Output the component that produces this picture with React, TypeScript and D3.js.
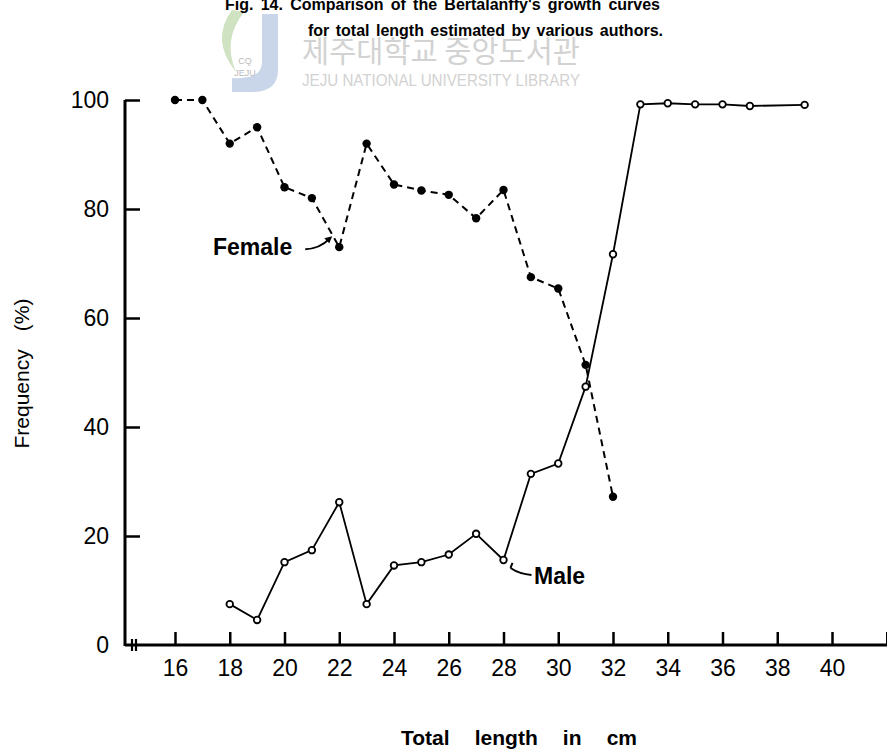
import React, { useRef, useEffect } from "react";
import * as d3 from "d3";

// total length (cm) and frequency (%)
const femaleLength = [16, 17, 18, 19, 20, 21, 22, 23, 24, 25, 26, 27, 28, 29, 30, 31, 32];
const femaleFreq = [100, 100, 92, 95, 84, 82, 73, 92, 84.5, 83.4, 82.6, 78.3, 83.5, 67.5, 65.4, 51.4, 27.2];

const maleLength = [18, 19, 20, 21, 22, 23, 24, 25, 26, 27, 28, 29, 30, 31, 32, 33, 34, 35, 36, 37, 39];
const maleFreq = [7.5, 4.6, 15.2, 17.4, 26.2, 7.5, 14.6, 15.2, 16.6, 20.4, 15.6, 31.4, 33.3, 47.4, 71.7, 99.2, 99.4, 99.2, 99.2, 98.9, 99.1];

const xTicks = [16, 18, 20, 22, 24, 26, 28, 30, 32, 34, 36, 38, 40, 42];
const yTicks = [0, 20, 40, 60, 80, 100];

const titleLines = [
  "Fig. 14. Comparison of the Bertalanffy's growth curves",
  "for total length estimated by various authors.",
];

const dimensions = {
  width: 887,
  height: 754,
  margin: { top: 100, right: 0, bottom: 109, left: 125 },
};
const bottomY = dimensions.height - dimensions.margin.bottom;

const xScale = d3.scaleLinear().domain([16, 40]).range([175, 832]);
const yScale = d3.scaleLinear().domain([0, 100]).range([bottomY, dimensions.margin.top]);

const font = "'Liberation Sans', Arial, sans-serif";

// widen the gaps between words so the text spans `target` px
function spreadWords(sel: d3.Selection<SVGTextElement, unknown, null, undefined>, target: number) {
  const node = sel.node();
  if (!node) return;
  const natural = node.getComputedTextLength();
  const gaps = (node.textContent || "").split(" ").length - 1;
  if (gaps > 0 && natural < target) sel.attr("word-spacing", (target - natural) / gaps);
}

export default function App() {
  const svgRef = useRef<SVGSVGElement>(null);

  useEffect(() => {
    if (!svgRef.current) return;
    const svg = d3.select(svgRef.current);
    svg.selectAll("*").remove();

    // library watermark
    const wm = svg.append("g").attr("class", "watermark");
    wm.append("path")
      .attr("d", "M262,14 L278,14 L278,70 Q278,92 252,92 L232,92 L232,78 Q262,80 262,62 Z")
      .attr("fill", "#c9d6ea");
    wm.append("path")
      .attr("d", "M232,10 Q210,40 236,72 Q222,40 244,12 Z")
      .attr("fill", "#cfe3c2");
    wm.append("text").attr("x", 245).attr("y", 64).attr("text-anchor", "middle")
      .attr("font-family", font).attr("font-size", 9).attr("fill", "#bbb").text("CQ");
    wm.append("text").attr("x", 245).attr("y", 76).attr("text-anchor", "middle")
      .attr("font-family", font).attr("font-size", 9).attr("fill", "#bbb").text("JEJU");
    wm.append("text").attr("x", 302).attr("y", 62)
      .attr("font-family", "'Noto Sans CJK KR', sans-serif").attr("font-size", 30)
      .attr("textLength", 278).attr("lengthAdjust", "spacingAndGlyphs")
      .attr("fill", "#d2d2d2").text("제주대학교 중앙도서관");
    wm.append("text").attr("x", 302).attr("y", 86)
      .attr("font-family", font).attr("font-size", 16)
      .attr("textLength", 278).attr("lengthAdjust", "spacingAndGlyphs")
      .attr("fill", "#d2d2d2").text("JEJU NATIONAL UNIVERSITY LIBRARY");

    // caption (first line cut off by the page top)
    const cap1 = svg.append("text").attr("x", 225).attr("y", 10)
      .attr("font-family", font).attr("font-size", 16).attr("font-weight", "bold")
      .text(titleLines[0]);
    spreadWords(cap1, 435);
    const cap2 = svg.append("text").attr("x", 308).attr("y", 36)
      .attr("font-family", font).attr("font-size", 16).attr("font-weight", "bold")
      .text(titleLines[1]);
    spreadWords(cap2, 355);

    // axes
    const axisColor = "#000";
    const xAxis = d3.axisBottom(xScale)
      .tickValues(xTicks)
      .tickSize(-13)
      .tickPadding(15)
      .tickFormat((d) => (+d <= 40 ? String(d) : ""));
    const gx = svg.append("g").attr("transform", `translate(0,${bottomY})`).call(xAxis);
    gx.select(".domain").remove();
    gx.selectAll(".tick line").attr("stroke", axisColor).attr("stroke-width", 2.5);
    gx.selectAll(".tick text").attr("font-family", font).attr("font-size", 23).attr("fill", "#000");

    const yAxis = d3.axisLeft(yScale)
      .tickValues(yTicks)
      .tickSize(-15)
      .tickPadding(16);
    const gy = svg.append("g").attr("transform", `translate(${dimensions.margin.left},0)`).call(yAxis);
    gy.select(".domain").remove();
    gy.selectAll(".tick line").attr("stroke", axisColor).attr("stroke-width", 2.5)
      .filter((d) => d === 0).remove();
    gy.selectAll(".tick text").attr("font-family", font).attr("font-size", 23).attr("fill", "#000");

    // axis lines with break
    svg.append("line")
      .attr("x1", dimensions.margin.left).attr("x2", dimensions.margin.left)
      .attr("y1", yScale(100)).attr("y2", bottomY + 1)
      .attr("stroke", axisColor).attr("stroke-width", 3);
    svg.append("line")
      .attr("x1", dimensions.margin.left).attr("x2", dimensions.width)
      .attr("y1", bottomY).attr("y2", bottomY)
      .attr("stroke", axisColor).attr("stroke-width", 3);
    [132, 136].forEach((bx) => {
      svg.append("line").attr("x1", bx).attr("x2", bx)
        .attr("y1", bottomY - 6).attr("y2", bottomY + 6)
        .attr("stroke", axisColor).attr("stroke-width", 2.2);
    });

    // axis titles
    const yTitle = svg.append("text")
      .attr("transform", `translate(29,${(yScale(100) + bottomY) / 2 + 1}) rotate(-90)`)
      .attr("text-anchor", "middle")
      .attr("font-family", font).attr("font-size", 21)
      .text("Frequency (%)");
    spreadWords(yTitle, 150);
    const xTitle = svg.append("text")
      .attr("x", 519).attr("y", 745).attr("text-anchor", "middle")
      .attr("font-family", font).attr("font-size", 21).attr("font-weight", "bold")
      .text("Total length in cm");
    spreadWords(xTitle, 236);

    const female = femaleLength.map((x, i) => [x, femaleFreq[i]] as [number, number]);
    const male = maleLength.map((x, i) => [x, maleFreq[i]] as [number, number]);

    const lineGenerator = d3.line<[number, number]>()
      .x((d) => xScale(d[0]))
      .y((d) => yScale(d[1]));

    svg.append("path").attr("d", lineGenerator(female))
      .attr("fill", "none").attr("stroke", "#000").attr("stroke-width", 2)
      .attr("stroke-dasharray", "7,5");
    svg.append("path").attr("d", lineGenerator(male))
      .attr("fill", "none").attr("stroke", "#000").attr("stroke-width", 1.8);

    svg.append("g").selectAll("circle").data(female).join("circle")
      .attr("cx", (d) => xScale(d[0])).attr("cy", (d) => yScale(d[1]))
      .attr("r", 4.2).attr("fill", "#000");
    svg.append("g").selectAll("circle").data(male).join("circle")
      .attr("cx", (d) => xScale(d[0])).attr("cy", (d) => yScale(d[1]))
      .attr("r", 3.3).attr("fill", "#fff").attr("stroke", "#000").attr("stroke-width", 1.8);

    // series labels
    const fx = xScale(22), fy = yScale(73);
    svg.append("text").attr("x", 213).attr("y", 255)
      .attr("font-family", font).attr("font-size", 23).attr("font-weight", "bold")
      .text("Female");
    svg.append("path")
      .attr("d", `M${fx - 34},${fy + 2} Q${fx - 20},${fy + 2} ${fx - 9},${fy - 9}`)
      .attr("fill", "none").attr("stroke", "#000").attr("stroke-width", 2);
    svg.append("path")
      .attr("d", `M${fx - 7},${fy - 11} L${fx - 15},${fy - 9} L${fx - 10},${fy - 4} Z`)
      .attr("fill", "#000");

    const mx = xScale(28), my = yScale(15.6);
    svg.append("text").attr("x", 534).attr("y", 584)
      .attr("font-family", font).attr("font-size", 23).attr("font-weight", "bold")
      .text("Male");
    svg.append("path")
      .attr("d", `M${mx + 28},${my + 15} Q${mx + 16},${my + 14} ${mx + 7},${my + 8}`)
      .attr("fill", "none").attr("stroke", "#000").attr("stroke-width", 2);
    svg.append("line")
      .attr("x1", mx + 7).attr("y1", my + 8).attr("x2", mx + 9).attr("y2", my + 3)
      .attr("stroke", "#000").attr("stroke-width", 2);
  }, []);

  return (
    <svg
      ref={svgRef}
      width={dimensions.width}
      height={dimensions.height}
      style={{ position: "absolute", left: 0, top: 0, background: "#fff" }}
    />
  );
}
